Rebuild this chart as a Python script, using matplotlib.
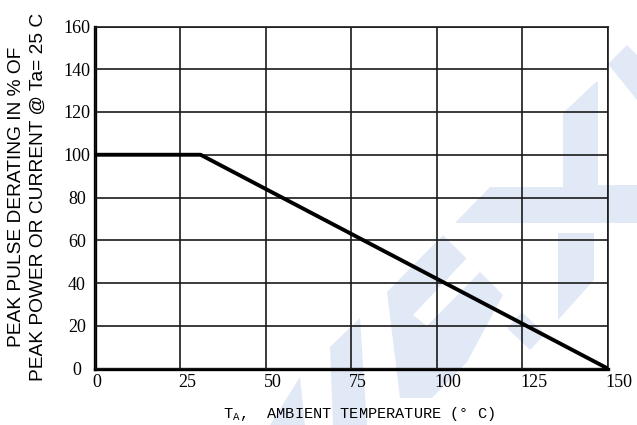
import matplotlib
matplotlib.use("Agg")
import matplotlib.pyplot as plt
from matplotlib.patches import Polygon
from matplotlib.transforms import ScaledTranslation

# Derating curve: temperature (C) vs % of peak power/current
temperatura = [0, 31, 150]
derating = [100, 100, 0]

x_ticks = [0, 25, 50, 75, 100, 125, 150]
y_ticks = [0, 20, 40, 60, 80, 100, 120, 140, 160]

plt.rcParams["mathtext.fontset"] = "custom"
plt.rcParams["mathtext.rm"] = "Liberation Mono"

W, H = 637, 425
fig = plt.figure(figsize=(W / 100, H / 100), dpi=100)
ax = fig.add_axes([94.5 / W, 1 - 368.5 / H, (607.7 - 94.5) / W, (368.5 - 26.5) / H])
ax.set_facecolor("none")

# marca d'agua azul clara (pixel coords of the picture)
marca = [
    [(490, 187), (563, 187), (563, 113), (596, 82), (598, 82), (598, 185),
     (637, 185), (637, 223), (455, 223)],
    [(608, 64), (627, 45), (637, 55), (637, 100)],
    [(558, 233), (594, 233), (594, 280), (558, 320)],
    [(443, 235), (503, 295), (467, 362), (432, 398), (400, 398), (387, 292)],
    [(507, 328), (522, 312), (545, 334), (530, 350)],
    [(330, 347), (360, 318), (367, 425), (333, 425)],
    [(300, 377), (305, 425), (270, 425)],
]
for pts in marca:
    fig.patches.append(Polygon([(x / W, 1 - y / H) for x, y in pts], closed=True,
                               transform=fig.transFigure, facecolor="#e1e8f6",
                               edgecolor="none", zorder=-1))
# entalhe branco dentro do "e"
fig.patches.append(Polygon([(x / W, 1 - y / H) for x, y in
                            [(467, 258), (480, 272), (427, 326), (413, 315)]],
                           closed=True, transform=fig.transFigure, facecolor="white",
                           edgecolor="none", zorder=-1))

ax.plot(temperatura, derating, color="black", linewidth=2.8, solid_capstyle="butt",
        zorder=3)

ax.set_xlim(0, 150)
ax.set_ylim(0, 160)
ax.set_xticks(x_ticks)
ax.set_yticks(y_ticks)
ax.grid(True, color="#1a1a1a", linewidth=1.2)
ax.set_axisbelow(False)

for lado in ["top", "right"]:
    ax.spines[lado].set_linewidth(1.2)
    ax.spines[lado].set_color("#1a1a1a")
for lado in ["left", "bottom"]:
    ax.spines[lado].set_linewidth(2.4)

ax.tick_params(axis="both", length=0, labelsize=13)
ax.tick_params(axis="x", pad=4)
ax.tick_params(axis="y", pad=12.6)
for lab in ax.get_xticklabels():
    lab.set_fontfamily("Liberation Serif")
    lab.set_horizontalalignment("left")
    lab.set_transform(lab.get_transform() + ScaledTranslation(-0.02, 0, fig.dpi_scale_trans))
for lab in ax.get_yticklabels():
    lab.set_fontfamily("Liberation Serif")
    lab.set_horizontalalignment("center")

fig.text(27.5 / W, 1 - 197 / H,
         "PEAK PULSE DERATING IN % OF\nPEAK POWER OR CURRENT @ Ta= 25 C",
         rotation=90, ha="center", va="center", multialignment="center",
         linespacing=1.35, fontsize=13.8, family="Liberation Sans")

fig.text(359 / W, 1 - 418 / H, r"T$_{\mathrm{A}}$,  AMBIENT TEMPERATURE (° C)",
         ha="center", va="baseline", fontsize=11, family="Liberation Mono")

plt.savefig("out.png", dpi=100)
